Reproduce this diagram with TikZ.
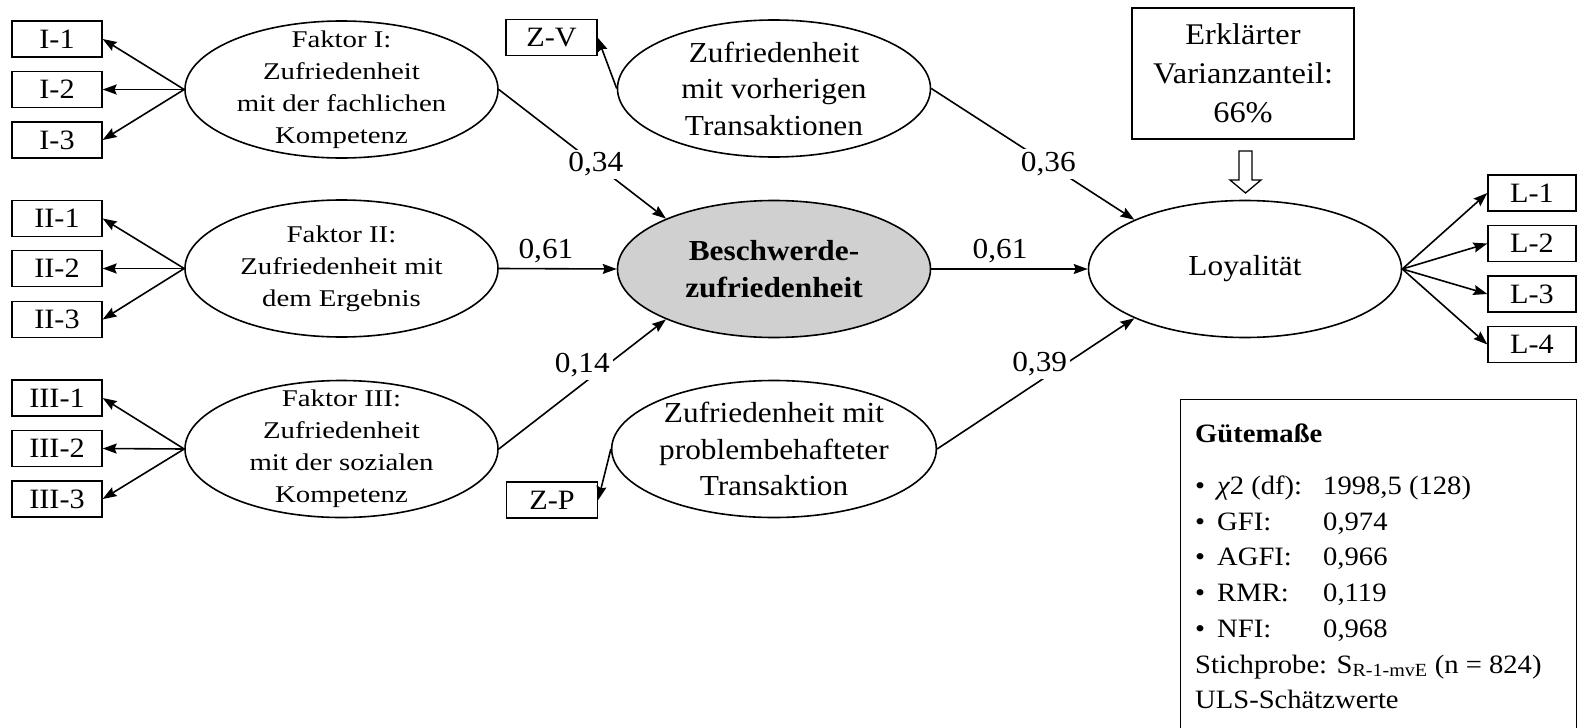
\documentclass[tikz,border=0pt]{standalone}
\usepackage{fontspec}
\setmainfont{Liberation Serif}[FakeStretch=1.08]
\newfontfamily\faktorfont{Liberation Serif}[FakeStretch=1.2]
\usepackage{tikz}
\usetikzlibrary{shapes.geometric, arrows.meta, calc}
\usepackage{xcolor}
\definecolor{beschgrau}{RGB}{208,208,208}
\tikzset{
    latent/.style={ellipse, draw, line width=1.6pt, minimum width=313pt, minimum height=137pt, inner xsep=0pt, inner ysep=-6pt, align=center, font=\fontsize{29}{36.5}\selectfont},
    faktor/.style={latent, inner ysep=-14pt, font=\faktorfont\fontsize{24}{32}\selectfont},
    indicator/.style={rectangle, draw, line width=1.3pt, minimum width=90pt, minimum height=36pt, inner sep=0pt, font=\fontsize{28}{30}\selectfont},
    weight/.style={fill=white, inner sep=3pt, font=\fontsize{29}{30}\selectfont},
    arrow/.style={line width=1.6pt, -{Stealth[length=14pt, width=10pt, inset=2pt]}}
}
\newcommand{\gmrow}[2]{\makebox[128pt][l]{\textbullet\hspace{12pt}#1}#2}

\begin{document}
\begin{tikzpicture}[x=1pt, y=-1pt]
    \useasboundingbox (0,0) rectangle (1577,728);
    \node[faktor] (f1) at (341.5,89.5) {Faktor I:\\Zufriedenheit\\mit der fachlichen\\Kompetenz};
    \node[faktor] (f2) at (341.5,268.5) {Faktor II:\\Zufriedenheit mit\\dem Ergebnis};
    \node[faktor] (f3) at (341.5,449) {Faktor III:\\Zufriedenheit\\mit der sozialen\\Kompetenz};
    \node[latent] (vorher) at (774,88.5) {Zufriedenheit\\mit vorherigen\\Transaktionen};
    \node[latent, fill=beschgrau, font=\bfseries\fontsize{29}{37}\selectfont] (besch) at (774,269) {Beschwerde-\\zufriedenheit};
    \node[latent] (problem) at (774,449) {Zufriedenheit mit\\problembehafteter\\Transaktion};
    \node[latent] (loyal) at (1245,269) {Loyalität};

    \node[indicator] (i1) at (57,39) {I-1};
    \node[indicator] (i2) at (57,89.5) {I-2};
    \node[indicator] (i3) at (57,140) {I-3};
    \node[indicator] (ii1) at (57,218.5) {II-1};
    \node[indicator] (ii2) at (57,268.5) {II-2};
    \node[indicator] (ii3) at (57,319.5) {II-3};
    \node[indicator] (iii1) at (57,398) {III-1};
    \node[indicator] (iii2) at (57,448.5) {III-2};
    \node[indicator] (iii3) at (57,499) {III-3};
    \node[indicator, minimum width=91pt] (zv) at (551.5,37.5) {Z-V};
    \node[indicator, minimum width=91pt] (zp) at (552,500) {Z-P};
    \node[indicator, minimum width=88pt] (l1) at (1532,193) {L-1};
    \node[indicator, minimum width=88pt] (l2) at (1532,243.5) {L-2};
    \node[indicator, minimum width=88pt] (l3) at (1532,294) {L-3};
    \node[indicator, minimum width=88pt] (l4) at (1532,344.5) {L-4};

    \node[draw, line width=1.3pt, minimum width=222pt, minimum height=131pt, align=center, font=\fontsize{30}{39}\selectfont] (erkl) at (1243,73.5) {Erklärter\\Varianzanteil:\\66\%};

    \draw (f1.west) edge[arrow] (i1.east) edge[arrow] (i2.east) edge[arrow] (i3.east);
    \draw (f2.west) edge[arrow] (ii1.east) edge[arrow] (ii2.east) edge[arrow] (ii3.east);
    \draw (f3.west) edge[arrow] (iii1.east) edge[arrow] (iii2.east) edge[arrow] (iii3.east);
    \draw (loyal.east) edge[arrow] (l1.west) edge[arrow] (l2.west) edge[arrow] (l3.west) edge[arrow] (l4.west);
    \draw[arrow] (vorher.west) -- (zv.east);
    \draw[arrow] (problem.west) -- (zp.east);

    \draw[arrow] (f1.east) -- node[weight, pos=0.58] {0,34} (besch.155);
    \draw[arrow] (f2.east) -- node[weight, above=2pt, pos=0.4] {0,61} (besch.west);
    \draw[arrow] (f3.east) -- node[weight, pos=0.5, yshift=19pt] {0,14} (besch.205);
    \draw[arrow] (vorher.east) -- node[weight, pos=0.576] {0,36} (loyal.156);
    \draw[arrow] (besch.east) -- node[weight, above=2pt, pos=0.44] {0,61} (loyal.west);
    \draw[arrow] (problem.east) -- node[weight, pos=0.52, yshift=17pt] {0,39} (loyal.204);

    \draw[line width=1.3pt, fill=white] (1239,151) -- (1252,151) -- (1252,180) -- (1261,180) -- (1245.5,193) -- (1230,180) -- (1239,180) -- cycle;

    \node[draw, line width=1.3pt, anchor=north west, minimum width=395.5pt, minimum height=360pt] (guetebox) at (1180,399) {};
    \node[anchor=north west, inner sep=0pt, align=left, font=\fontsize{26.5}{35.7}\selectfont] (guete) at (1195,424) {\textbf{Gütemaße}\\[16pt]
        \gmrow{{\itshape χ}2 (df):}{1998,5 (128)}\\
        \gmrow{GFI:}{0,974}\\
        \gmrow{AGFI:}{0,966}\\
        \gmrow{RMR:}{0,119}\\
        \gmrow{NFI:}{0,968}\\
        Stichprobe: S\textsubscript{R-1-mvE} (n = 824)\\
        ULS-Schätzwerte};
\end{tikzpicture}
\end{document}
